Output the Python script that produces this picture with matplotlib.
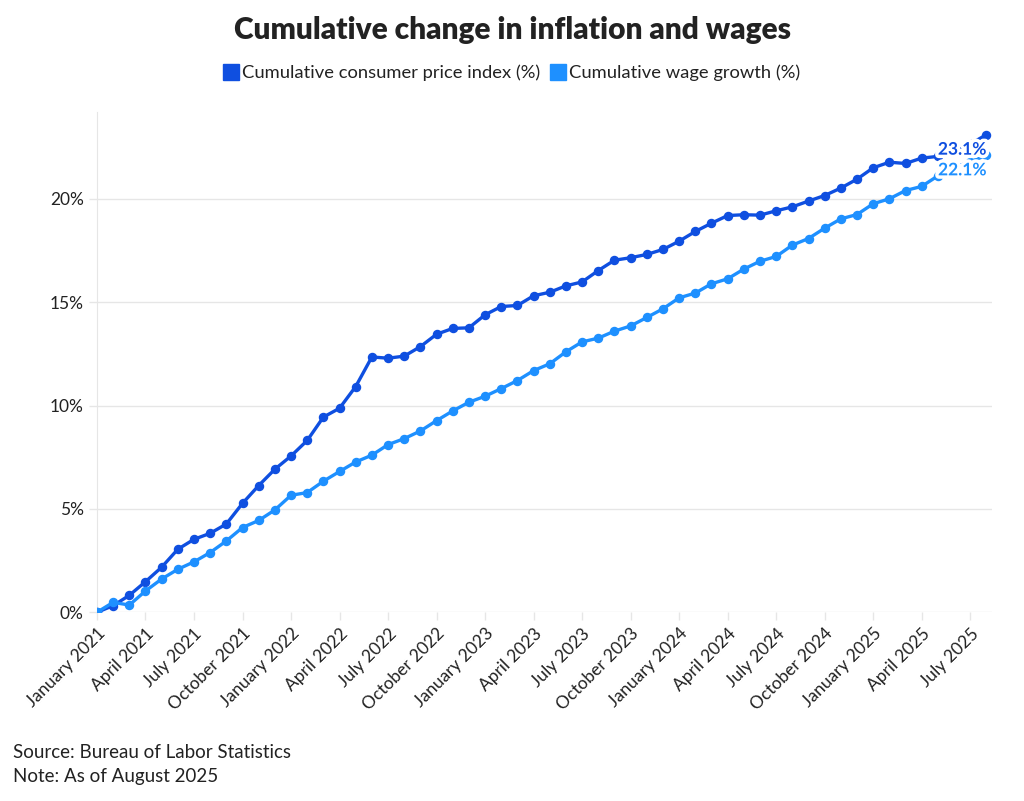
import matplotlib.pyplot as plt
import matplotlib.patheffects as pe
from matplotlib.lines import Line2D

# monthly values, January 2021 .. August 2025
months = ["January", "February", "March", "April", "May", "June", "July",
          "August", "September", "October", "November", "December"]
dates = [f"{months[i % 12]} {2021 + i // 12}" for i in range(56)]

cpi = [0.00, 0.32, 0.82, 1.48, 2.18, 3.05, 3.53, 3.82, 4.27, 5.27, 6.13, 6.92,
       7.56, 8.31, 9.44, 9.87, 10.92, 12.35, 12.29, 12.39, 12.85, 13.45, 13.73, 13.76,
       14.39, 14.79, 14.84, 15.31, 15.48, 15.79, 15.98, 16.53, 17.03, 17.15, 17.31, 17.55,
       17.95, 18.42, 18.82, 19.19, 19.23, 19.21, 19.42, 19.61, 19.89, 20.16, 20.52, 20.95,
       21.50, 21.77, 21.71, 21.97, 22.05, 22.35, 22.65, 23.10]

wages = [0.00, 0.48, 0.35, 1.03, 1.61, 2.08, 2.44, 2.89, 3.45, 4.10, 4.44, 4.95,
         5.66, 5.79, 6.34, 6.81, 7.27, 7.60, 8.11, 8.40, 8.77, 9.27, 9.74, 10.16,
         10.45, 10.82, 11.21, 11.69, 12.02, 12.60, 13.08, 13.26, 13.60, 13.85, 14.26, 14.68,
         15.21, 15.44, 15.89, 16.13, 16.60, 16.98, 17.21, 17.76, 18.08, 18.58, 19.03, 19.24,
         19.76, 20.00, 20.40, 20.60, 21.11, 21.50, 21.80, 22.10]

series_names = ["Cumulative consumer price index (%)", "Cumulative wage growth (%)"]
colors = ["#0f4fe0", "#1e90ff"]

plt.rcParams['font.family'] = ['Lato', 'DejaVu Sans']

fig = plt.figure(figsize=(10.24, 8.01), dpi=100)
ax = fig.add_axes([0.0947, 0.2356, 0.8741, 0.6246])

x = list(range(len(dates)))
for vals, col in zip([cpi, wages], colors):
    ax.plot(x, vals, color=col, lw=2.4, marker='o', ms=5.8, zorder=3,
            solid_joinstyle='round')

# end labels with white halo
for vals, col in zip([cpi, wages], colors):
    ax.annotate(f"{vals[-1]:.1f}%", (x[-1], vals[-1]), xytext=(0, -5),
                textcoords='offset points', ha='right', va='top',
                color=col, fontsize=12.5, fontweight='bold', zorder=5,
                path_effects=[pe.withStroke(linewidth=5, foreground='white')])

ax.set_xlim(0, 55.35)
ax.set_ylim(0, 24.2)
ax.set_yticks([0, 5, 10, 15, 20])
ax.set_yticklabels([f"{v}%" for v in [0, 5, 10, 15, 20]])
xt = list(range(0, 56, 3))
ax.set_xticks(xt)
ax.set_xticklabels([dates[i] for i in xt], rotation=45, ha='right',
                   rotation_mode='anchor')
ax.grid(axis='y', color='#e6e6e6', lw=1)
ax.set_axisbelow(True)
for s in ['top', 'right', 'bottom']:
    ax.spines[s].set_visible(False)
ax.spines['left'].set_color('#e6e6e6')
ax.tick_params(axis='both', colors='#e6e6e6', labelcolor='#222222',
               labelsize=12.5, length=6, width=1)

fig.text(0.5, 0.962, "Cumulative change in inflation and wages", ha='center',
         va='center', fontsize=21.5, fontweight='heavy', color='#222222')

handles = [Line2D([], [], ls='none', marker='s', ms=11, color=c,
                  markeredgecolor=c) for c in colors]
fig.legend(handles, series_names, loc='center', bbox_to_anchor=(0.5, 0.909),
           ncol=2, frameon=False, fontsize=13.2, handlelength=0.8,
           handletextpad=0.2, columnspacing=0.6, labelcolor='#222222')

fig.text(0.0127, 0.060, "Source: Bureau of Labor Statistics", fontsize=13.5,
         color='#222222', va='center')
fig.text(0.0127, 0.031, "Note: As of August 2025", fontsize=13.5,
         color='#222222', va='center')

fig.savefig("out.png", dpi=100, facecolor='white')
